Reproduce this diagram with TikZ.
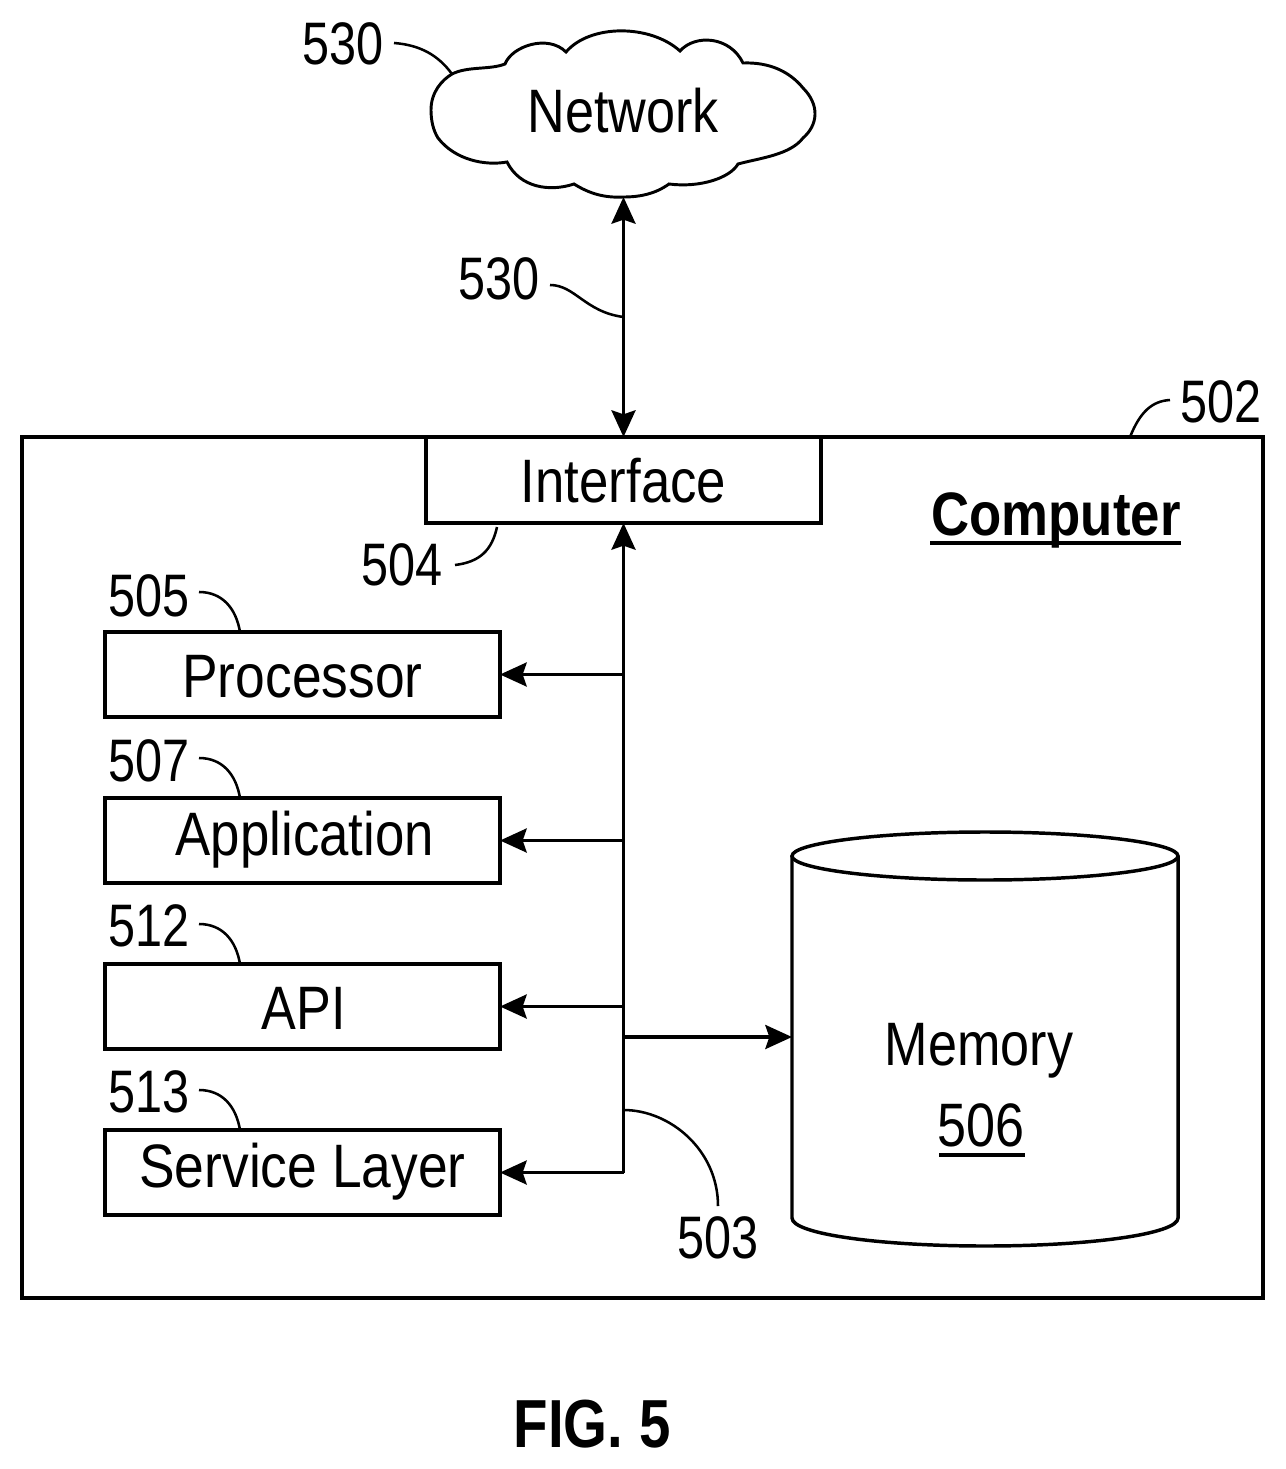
\documentclass[tikz,border=0pt]{standalone}
\usepackage{fontspec}
\usepackage{graphicx}
\setmainfont{Liberation Sans}
\usetikzlibrary{arrows.meta}
\newcommand{\nar}[2][.85]{\scalebox{#1}[1]{#2}}
\tikzset{
  x=0.75pt,y=-0.75pt,
  every node/.style={inner sep=0pt,outer sep=0pt},
  ln/.style={draw=black,line width=2.6pt,line join=miter},
  lead/.style={draw=black,line width=1.9pt},
  big/.style={font=\fontsize{46}{50}\selectfont,anchor=base},
  num/.style={font=\fontsize{45}{50}\selectfont,anchor=base},
  box/.style n args={2}{ln,minimum width=296.25pt,minimum height=64pt,align=center,
     font=\fontsize{46}{50}\selectfont,text height=40pt,text depth=#1},
  arr/.style={ln,-{Stealth[length=20pt,width=18pt,inset=3pt]}},
  darr/.style={ln,{Stealth[length=20pt,width=18pt,inset=3pt]}-{Stealth[length=20pt,width=18pt,inset=3pt]}},
}
\begin{document}
\begin{tikzpicture}
\useasboundingbox (0,0) rectangle (1285,1469);
% computer frame
\node[ln,minimum width=930.75pt,minimum height=645.75pt] (comp) at (642.5,867.5) {};
\node[big,font=\bfseries\fontsize{46}{50}\selectfont] (complbl) at (1056,535) {\nar[.86]{Computer}};
\draw[ln] (930,543) -- (1181,543);
% cloud
\coordinate (cloudtl) at (452,74);
\coordinate (cloudbot) at (623.5,197);
\draw[ln,line width=2.2pt] (431,110)
  .. controls (431,92) and (442,80) .. (cloudtl)
  .. controls (468,66) and (490,70) .. (505,64)
  .. controls (512,46) and (548,34) .. (566,52)
  .. controls (590,24) and (650,24) .. (680,51)
  .. controls (695,34) and (730,36) .. (743,63)
  .. controls (770,62) and (790,72) .. (803,88)
  .. controls (820,105) and (818,125) .. (803,138)
  .. controls (790,155) and (760,158) .. (738,164)
  .. controls (730,178) and (700,188) .. (669,184)
  .. controls (655,194) and (640,197) .. (cloudbot)
  .. controls (605,198) and (590,194) .. (574,184)
  .. controls (550,192) and (520,188) .. (507,162)
  .. controls (485,166) and (455,160) .. (438,138)
  .. controls (433,130) and (431,120) .. (431,110) -- cycle;
\node[big] (net) at (623,133) {\nar{Network}};
% boxes
\node[box={6.2pt}{},minimum height=64.5pt] (iface) at (623.5,480) {\nar[.86]{Interface}};
\node[box={6.2pt}{}] (proc) at (302.5,674.5) {\nar[.87]{Processor}};
\node[box={17.5pt}{}] (appl) at (302.5,840.5) {\nar[.86]{\kern4pt Application}};
\node[box={6.2pt}{}] (api) at (302.5,1006.5) {\nar{\kern2pt API}};
\node[box={17.5pt}{}] (serv) at (302.5,1172.5) {\nar[.87]{Service Layer}};
% memory
\draw[ln] (792,856) .. controls (792,843) and (880,832) .. (985,832)
  .. controls (1090,832) and (1178,843) .. (1178,856)
  .. controls (1178,869) and (1090,880) .. (985,880)
  .. controls (880,880) and (792,869) .. (792,856) -- cycle;
\draw[ln] (792,856) -- (792,1218) .. controls (792,1234) and (880,1246) .. (985,1246)
  .. controls (1090,1246) and (1178,1234) .. (1178,1218) -- (1178,856);
\coordinate (memport) at (792,1037);
\node[big] (memlbl) at (979,1065) {\nar{Memory}};
\node[big] (memnum) at (981,1146) {\nar{506}};
\draw[ln] (939,1155) -- (1025,1155);
% connectors
\draw[darr] (cloudbot) -- (iface.north);
\draw[arr] (iface.south |- serv.east) -- (iface.south);
\draw[arr] (iface.south |- proc.east) -- (proc.east);
\draw[arr] (iface.south |- appl.east) -- (appl.east);
\draw[arr] (iface.south |- api.east) -- (api.east);
\draw[arr] (iface.south |- serv.east) -- (serv.east);
\draw[arr] (iface.south |- memport) -- (memport);
% reference numerals
\node[num] (n530a) at (343,65) {\nar[.81]{530}};
\node[num] (n530b) at (499,300) {\nar[.81]{530}};
\node[num] (n502) at (1221,422) {\nar[.81]{502}};
\node[num] (n504) at (402,585) {\nar[.81]{504}};
\node[num] (n505) at (149,616) {\nar[.81]{505}};
\node[num] (n507) at (149,781) {\nar[.81]{507}};
\node[num] (n512) at (149,946) {\nar[.81]{512}};
\node[num] (n513) at (149,1112) {\nar[.81]{513}};
\node[num] (n503) at (718,1258) {\nar[.81]{503}};
% leaders
\coordinate (bus530) at (623.5,317);
\coordinate (bus503) at (623.5,1110);
\draw[lead] (394,43) .. controls (420,45) and (438,55) .. (cloudtl);
\draw[lead] (550,285) .. controls (575,285) and (585,312) .. (bus530);
\draw[lead] (1130,437) .. controls (1140,412) and (1152,401) .. (1170,400);
\draw[lead] (455,565) .. controls (480,562) and (492,550) .. (497,527);
\draw[lead] (199,592) .. controls (222,592) and (236,608) .. (240,632);
\draw[lead] (199,758) .. controls (222,758) and (236,774) .. (240,798);
\draw[lead] (199,924) .. controls (222,924) and (236,940) .. (240,964);
\draw[lead] (199,1090) .. controls (222,1090) and (236,1106) .. (240,1130);
\draw[lead] (bus503) .. controls (670,1110) and (718,1150) .. (718,1206);
% caption
\node[big,font=\bfseries\fontsize{51}{55}\selectfont] (fig) at (592,1447) {\nar[.83]{FIG. 5}};
\end{tikzpicture}
\end{document}
